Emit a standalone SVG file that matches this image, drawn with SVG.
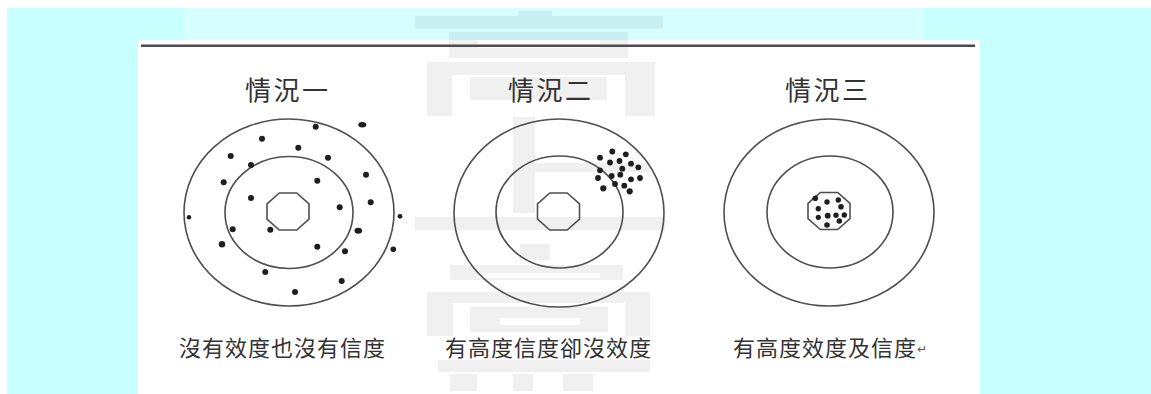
<svg xmlns="http://www.w3.org/2000/svg" width="1151" height="394" viewBox="0 0 1151 394">
  <style>
    .ring { fill: none; stroke: #4f4f4f; stroke-width: 1.6; }
    .dot { fill: #1e1e1e; }
    .title { font-family: "Noto Sans CJK TC", "Noto Sans CJK SC", sans-serif; font-size: 26px; fill: #333; letter-spacing: 2.5px; }
    .label { font-family: "Noto Sans CJK TC", "Noto Sans CJK SC", sans-serif; font-size: 22px; fill: #333; letter-spacing: 1px; }
    .wm { fill: #000; fill-opacity: 0.06; }
  </style>

  <!-- background -->
  <rect x="0" y="0" width="1151" height="394" fill="#ffffff"/>
  <rect x="7" y="8" width="1144" height="386" fill="#c8ffff"/>
  <rect x="184" y="8" width="739" height="32" fill="#ffffff" fill-opacity="0.25"/>
  <rect x="138" y="40" width="842" height="354" fill="#ffffff"/>

  <!-- watermark -->
  <g id="watermark">
    <rect class="wm" x="518" y="11" width="34" height="5"/>
    <rect class="wm" x="415" y="16" width="248" height="13"/>
    <path class="wm" fill-rule="evenodd" d="M449 32 H628 V58 H449 Z M478 40 V48 H600 V40 Z"/>
    <path class="wm" fill-rule="evenodd" d="M427 62 H655 V116 H427 Z M452 75 V116 H625 V75 Z"/>
    <rect class="wm" x="470" y="77" width="137" height="23"/>
    <rect class="wm" x="513" y="117" width="22" height="96"/>
    <rect class="wm" x="535" y="163" width="115" height="9"/>
    <rect class="wm" x="415" y="217" width="250" height="13"/>
    <rect class="wm" x="520" y="244" width="30" height="16"/>
    <path class="wm" fill-rule="evenodd" d="M450 265 H623 V280 H450 Z M477 273 V278 H600 V273 Z"/>
    <path class="wm" fill-rule="evenodd" d="M427 292 H650 V336 H427 Z M453 303 V336 H625 V303 Z"/>
    <path class="wm" fill-rule="evenodd" d="M470 307 H608 V332 H470 Z M500 318 V325 H580 V318 Z"/>
    <rect class="wm" x="438" y="360" width="212" height="12"/>
    <rect class="wm" x="450" y="374" width="27" height="17"/>
    <rect class="wm" x="513" y="374" width="20" height="17"/>
    <rect class="wm" x="563" y="374" width="30" height="17"/>
  </g>

  <!-- top rule -->
  <line x1="141" y1="45.8" x2="975" y2="45.8" stroke="#4d4d4d" stroke-width="2.6"/>

  <!-- case 1 -->
  <g id="case1">
    <text class="title" x="245" y="100">情況一</text>
    <ellipse class="ring" cx="289" cy="212.5" rx="105" ry="93.5"/>
    <ellipse class="ring" cx="289" cy="212.5" rx="64" ry="56"/>
    <polygon class="ring" points="279.3,193 296.7,193 309,203.8 309,219.2 296.7,230 279.3,230 267,219.2 267,203.8"/>
    <g class="dot">
      <circle cx="315.7" cy="126.7" r="3"/>
      <ellipse cx="362.3" cy="124.7" rx="4" ry="2.8"/>
      <circle cx="262" cy="138.7" r="3"/>
      <circle cx="298.3" cy="147.7" r="3"/>
      <circle cx="230.7" cy="156" r="3"/>
      <circle cx="328" cy="157.7" r="3"/>
      <circle cx="251" cy="165" r="3"/>
      <circle cx="366" cy="174.7" r="3"/>
      <circle cx="223.7" cy="182.3" r="3"/>
      <circle cx="317.3" cy="180.7" r="3"/>
      <circle cx="251" cy="198" r="3"/>
      <circle cx="339.7" cy="207.3" r="3"/>
      <circle cx="370.7" cy="202.3" r="3"/>
      <circle cx="189" cy="217.3" r="2.2"/>
      <circle cx="400" cy="216.3" r="2.4"/>
      <circle cx="232.7" cy="229.3" r="3"/>
      <circle cx="270.3" cy="229.7" r="3"/>
      <ellipse cx="358.3" cy="230.7" rx="3.8" ry="3"/>
      <circle cx="222" cy="244.3" r="3.2"/>
      <circle cx="317.3" cy="246.7" r="3"/>
      <circle cx="345" cy="251.3" r="3"/>
      <circle cx="393.3" cy="249.3" r="2.8"/>
      <circle cx="265.3" cy="272" r="3"/>
      <circle cx="341.7" cy="281" r="3"/>
      <circle cx="295" cy="292" r="3"/>
    </g>
    <text class="label" x="179" y="356">沒有效度也沒有信度</text>
  </g>

  <!-- case 2 -->
  <g id="case2">
    <text class="title" x="508" y="100">情況二</text>
    <ellipse class="ring" cx="559" cy="213" rx="105" ry="94"/>
    <ellipse class="ring" cx="559.5" cy="212" rx="63.5" ry="56"/>
    <polygon class="ring" points="549.8,193 567.2,193 579.5,203.8 579.5,219.2 567.2,230 549.8,230 537.5,219.2 537.5,203.8"/>
    <g class="dot">
      <circle cx="612.3" cy="151.5" r="2.9"/>
      <circle cx="600" cy="157.7" r="2.9"/>
      <circle cx="625.8" cy="154.3" r="2.9"/>
      <circle cx="610" cy="162.5" r="2.9"/>
      <circle cx="619.5" cy="161" r="2.9"/>
      <circle cx="631" cy="163.7" r="2.9"/>
      <circle cx="638.3" cy="167.3" r="2.9"/>
      <circle cx="600" cy="170.3" r="2.9"/>
      <circle cx="622.3" cy="168.7" r="2.9"/>
      <circle cx="611.7" cy="176" r="2.9"/>
      <circle cx="620.3" cy="174.7" r="2.9"/>
      <circle cx="598" cy="178" r="2.9"/>
      <circle cx="631" cy="179.3" r="2.9"/>
      <circle cx="640" cy="178" r="2.9"/>
      <circle cx="615" cy="184" r="2.9"/>
      <circle cx="624.3" cy="185.7" r="2.9"/>
      <circle cx="603.3" cy="188.3" r="3.1"/>
      <circle cx="629.7" cy="191.3" r="3.1"/>
    </g>
    <text class="label" x="445" y="356">有高度信度卻沒效度</text>
  </g>

  <!-- case 3 -->
  <g id="case3">
    <text class="title" x="785" y="100">情況三</text>
    <ellipse class="ring" cx="829" cy="212.5" rx="105" ry="93.5"/>
    <ellipse class="ring" cx="830" cy="212" rx="63" ry="56"/>
    <polygon class="ring" points="820.3,192.5 837.7,192.5 850,203.3 850,218.7 837.7,229.5 820.3,229.5 808,218.7 808,203.3"/>
    <g class="dot">
      <circle cx="815.3" cy="198.3" r="2.8"/>
      <circle cx="827" cy="202" r="2.7"/>
      <circle cx="838.3" cy="200" r="2.7"/>
      <circle cx="818.3" cy="208.7" r="2.7"/>
      <circle cx="841" cy="206.7" r="2.8"/>
      <circle cx="827.7" cy="215.7" r="2.9"/>
      <circle cx="836" cy="215.3" r="2.7"/>
      <circle cx="818.3" cy="217.3" r="2.6"/>
      <circle cx="844.3" cy="215" r="2.7"/>
      <circle cx="839.3" cy="221" r="2.8"/>
      <circle cx="827" cy="225" r="2.8"/>
    </g>
    <text class="label" x="733" y="356">有高度效度及信度<tspan font-family="DejaVu Sans, sans-serif" font-size="12px" dy="-3" fill="#555">↵</tspan></text>
  </g>
</svg>
